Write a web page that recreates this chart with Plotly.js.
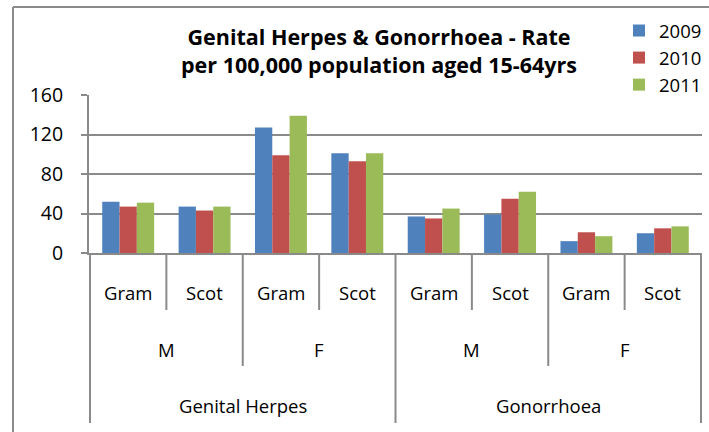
<!DOCTYPE html>
<html>
<head>
<meta charset="utf-8">
<script src="https://cdn.plot.ly/plotly-3.0.1.min.js"></script>
<style>
html, body { margin: 0; padding: 0; background: #fff; }
#chart { width: 709px; height: 432px; }
</style>
</head>
<body>
<div id="chart"></div>
<script>
// ---- data ----
const diseases = ["Genital Herpes", "Genital Herpes", "Genital Herpes", "Genital Herpes",
                  "Gonorrhoea", "Gonorrhoea", "Gonorrhoea", "Gonorrhoea"];
const sexes = ["M", "M", "F", "F", "M", "M", "F", "F"];
const areas = ["Gram", "Scot", "Gram", "Scot", "Gram", "Scot", "Gram", "Scot"];
const seriesNames = ["2009", "2010", "2011"];
const rate2009 = [52, 47, 127, 101, 37, 39, 12, 20];
const rate2010 = [47, 43, 99, 93, 35, 55, 21, 25];
const rate2011 = [51, 47, 139, 101, 45, 62, 17, 27];
const yTickVals = [0, 40, 80, 120, 160];
const titleText = "Genital Herpes & Gonorrhoea - Rate<br>per 100,000 population aged 15-64yrs";

// ---- layout helpers ----
const W = 709, H = 432;
const M = { l: 89, r: 7, t: 95, b: 179, autoexpand: false };
const plotH = H - M.t - M.b;
const plotW = W - M.l - M.r;
const py = px => (H - M.b - px) / plotH;          // pixel y -> paper y
const pxX = px => (px - M.l) / plotW;             // pixel x -> paper x

const FONT = "'Open Sans', Lato, sans-serif";
const GRID = "#8a8a8a";
const colors = ["#4F81BD", "#C0504D", "#9BBB59"];

const keys = diseases.map((d, i) => d + "|" + sexes[i] + "|" + areas[i]);
const values = [rate2009, rate2010, rate2011];

const traces = values.map((v, k) => ({
  type: "bar",
  name: seriesNames[k],
  x: keys,
  y: v,
  marker: { color: colors[k], line: { width: 0 } },
  hoverinfo: "x+y+name"
}));

// runs of equal labels in a level (respecting the parent level)
function runs(level, parentKey) {
  const out = [];
  let start = 0;
  for (let i = 1; i <= level.length; i++) {
    if (i === level.length || level[i] !== level[start] || parentKey(i) !== parentKey(start)) {
      out.push({ label: level[start], start: start, end: i - 1 });
      start = i;
    }
  }
  return out;
}
const diseaseRuns = runs(diseases, () => "");
const sexRuns = runs(sexes, i => diseases[i]);
const areaRuns = runs(areas, i => diseases[i] + sexes[i]);

const shapes = [];
const annotations = [];
const lineStyle = { color: GRID, width: 2 };

const levels = [
  { runs: areaRuns, bottom: 310, labelY: 292 },
  { runs: sexRuns, bottom: 366, labelY: 349 },
  { runs: diseaseRuns, bottom: 423, labelY: 405 }
];
const boundaryDepth = {};
levels.forEach((lv, li) => {
  lv.runs.forEach(r => {
    [r.start - 0.5, r.end + 0.5].forEach(b => {
      boundaryDepth[b] = Math.max(boundaryDepth[b] || 0, li);
    });
  });
});
Object.keys(boundaryDepth).forEach(b => {
  shapes.push({
    type: "line", xref: "x", yref: "paper",
    x0: +b, x1: +b, y0: 0, y1: py(levels[boundaryDepth[b]].bottom),
    line: lineStyle, layer: "above"
  });
});
levels.forEach(lv => {
  lv.runs.forEach(r => {
    annotations.push({
      xref: "x", yref: "paper",
      x: (r.start + r.end) / 2, y: py(lv.labelY),
      text: r.label, showarrow: false,
      xanchor: "center", yanchor: "middle",
      font: { family: FONT, size: 18.5, color: "#000" }
    });
  });
});

// chart-area border (top and left edges visible)
shapes.push({ type: "line", xref: "paper", yref: "paper",
  x0: pxX(13), x1: pxX(712), y0: py(7), y1: py(7), line: lineStyle });
shapes.push({ type: "line", xref: "paper", yref: "paper",
  x0: pxX(13), x1: pxX(13), y0: py(7), y1: py(440), line: lineStyle });

const layout = {
  width: W, height: H,
  margin: M,
  paper_bgcolor: "#fff", plot_bgcolor: "#fff",
  font: { family: FONT, color: "#000" },
  title: {
    text: titleText,
    font: { family: FONT, size: 21.5, color: "#000", weight: "bold" },
    x: 379 / W, xanchor: "center",
    y: 1 - 45 / H, yanchor: "middle"
  },
  barmode: "group",
  bargap: 0.32,
  bargroupgap: 0,
  showlegend: true,
  legend: {
    x: pxX(619), xanchor: "left",
    y: py(12), yanchor: "top",
    bgcolor: "rgba(0,0,0,0)",
    font: { family: FONT, size: 18.5, color: "#000" },
    itemwidth: 30,
    tracegroupgap: 0
  },
  xaxis: {
    type: "category",
    showticklabels: false,
    ticks: "",
    showgrid: false,
    showline: true, linecolor: GRID, linewidth: 2,
    zeroline: false,
    fixedrange: true
  },
  yaxis: {
    range: [0, 160],
    tickvals: yTickVals,
    ticktext: yTickVals.map(String),
    ticks: "outside", ticklen: 6, tickwidth: 2, tickcolor: GRID,
    showgrid: true, gridcolor: GRID, gridwidth: 2,
    showline: true, linecolor: GRID, linewidth: 2,
    zeroline: false,
    ticklabelstandoff: 14,
    tickfont: { family: FONT, size: 19.5, color: "#000" },
    fixedrange: true
  },
  shapes: shapes,
  annotations: annotations
};

Plotly.newPlot("chart", traces, layout, { displayModeBar: false, staticPlot: true });
</script>
</body>
</html>
